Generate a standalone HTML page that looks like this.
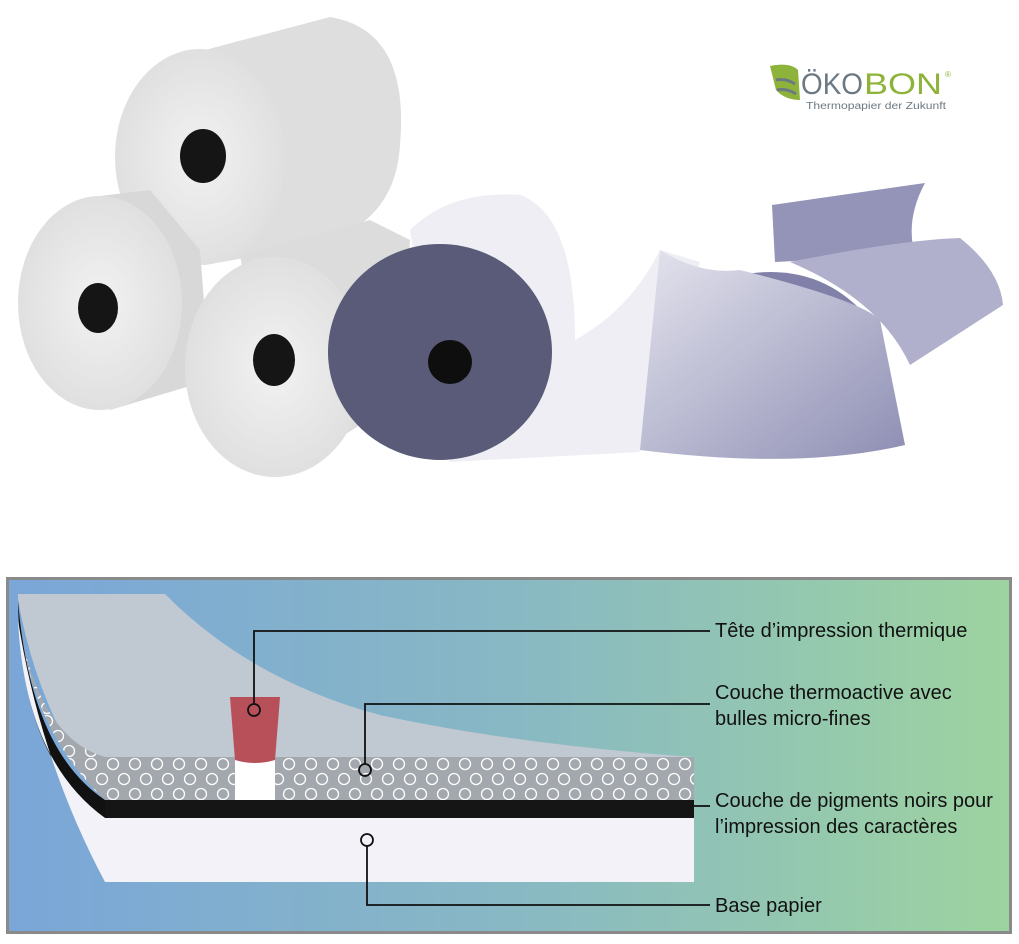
<!DOCTYPE html>
<html><head><meta charset="utf-8"><style>
html,body{margin:0;padding:0;background:#fff;width:1019px;height:944px;overflow:hidden}
svg{display:block}
text{font-family:"Liberation Sans",sans-serif}
</style></head><body>
<svg width="1019" height="944" viewBox="0 0 1019 944" xmlns="http://www.w3.org/2000/svg">
<defs>
<linearGradient id="bg" x1="0" y1="0" x2="1" y2="0">
<stop offset="0" stop-color="#7aa6d8"/><stop offset="0.5" stop-color="#88b8c4"/><stop offset="1" stop-color="#9dd3a0"/>
</linearGradient>
<radialGradient id="face" cx="0.5" cy="0.5" r="0.6"><stop offset="0" stop-color="#f2f2f2"/><stop offset="1" stop-color="#dcdcdc"/></radialGradient>
<linearGradient id="sheet" x1="0" y1="0" x2="1" y2="1"><stop offset="0" stop-color="#e4e4ee"/><stop offset="1" stop-color="#8e8eb4"/></linearGradient>
<pattern id="bub" x="105" y="757" width="44" height="43" patternUnits="userSpaceOnUse">
<rect width="44" height="43" fill="#a3a8ae"/>
<g fill="none" stroke="#fff" stroke-width="1.3">
<circle cx="8" cy="7" r="5.5"/><circle cx="30" cy="7" r="5.5"/>
<circle cx="19" cy="22" r="5.5"/><circle cx="41" cy="22" r="5.5"/><circle cx="-3" cy="22" r="5.5"/>
<circle cx="8" cy="37" r="5.5"/><circle cx="30" cy="37" r="5.5"/>
</g></pattern>
</defs>
<!-- top roll -->
<path d="M205 50 L330 17 Q410 30 400 145 Q395 235 290 250 L205 265 Z" fill="#dedede"/>
<ellipse cx="200" cy="157" rx="85" ry="108" fill="url(#face)"/>
<ellipse cx="203" cy="156" rx="23" ry="27" fill="#151515"/>
<!-- left roll -->
<path d="M100 196 L150 190 L200 250 L210 380 L110 410 Z" fill="#d8d8d8"/>
<ellipse cx="100" cy="303" rx="82" ry="107" fill="url(#face)"/>
<ellipse cx="98" cy="308" rx="20" ry="25" fill="#151515"/>
<!-- middle roll -->
<path d="M240 255 L370 220 L410 240 L400 400 L280 475 Z" fill="#dcdcdc"/>
<ellipse cx="275" cy="367" rx="90" ry="110" fill="url(#face)"/>
<ellipse cx="274" cy="360" rx="21" ry="26" fill="#151515"/>
<!-- sheets -->
<path d="M772 205 L925 183 Q905 220 915 255 L775 262 Z" fill="#9494b8"/>
<path d="M790 262 Q900 240 960 238 Q1000 270 1003 305 L910 365 Q880 300 790 262 Z" fill="#b0b0cc"/>
<path d="M740 275 Q820 260 870 320 L905 445 Z" fill="#8080a8"/>
<path d="M410 230 Q450 190 520 195 Q575 215 575 340 Q630 310 660 250 L700 262 L640 452 Q560 456 450 462 Z" fill="#eeeef4"/>
<path d="M660 250 Q700 275 740 270 Q860 300 880 320 L905 445 Q800 470 640 450 Z" fill="url(#sheet)"/>
<!-- blue roll -->
<ellipse cx="440" cy="352" rx="112" ry="108" fill="#5a5b78"/>
<ellipse cx="450" cy="362" rx="22" ry="22" fill="#0e0e0e"/>
<!-- logo -->
<path d="M770 66 Q790 62 798 70 L800 100 Q785 100 776 90 Z" fill="#8db33a"/>
<path d="M776 80 Q786 78 795 84 M777 90 Q787 88 796 94" stroke="#6c7882" stroke-width="3" fill="none"/>
<text x="801" y="94" font-size="30" fill="#6c7882" textLength="62" lengthAdjust="spacingAndGlyphs">ÖKO</text>
<text x="864" y="94" font-size="30" fill="#8db33a" textLength="78" lengthAdjust="spacingAndGlyphs">BON</text>
<text x="945" y="77" font-size="8" fill="#8db33a">®</text>
<text x="806" y="109" font-size="10" fill="#6c7882" textLength="140" lengthAdjust="spacingAndGlyphs">Thermopapier der Zukunft</text>

<!-- diagram -->
<rect x="7.5" y="578.5" width="1003" height="354" fill="url(#bg)" stroke="#8a8a8a" stroke-width="3"/>
<path d="M18 594 L165 594 Q250 680 380 715 Q520 745 694 757 L694 800 L105 800 Q40 720 18 600 Z" fill="#c0c8d2"/>
<path d="M22 640 Q45 740 105 757 L694 757 L694 800 L105 800 Q40 740 22 640 Z" fill="url(#bub)"/>
<path d="M18 600 Q30 750 105 800 L105 818 Q20 760 18 600 Z" fill="#111"/>
<path d="M18 620 Q25 760 105 818 L694 818 L694 882 L105 882 Q40 760 18 620 Z" fill="#f2f2f8"/>
<rect x="105" y="800" width="589" height="18" fill="#151515"/>
<rect x="235" y="757" width="40" height="43" fill="#fff"/>
<path d="M230 697 L280 697 L275 760 Q255 766 235 760 Z" fill="#b8505a"/>
<g fill="none" stroke="#111" stroke-width="1.8">
<path d="M254 704 L254 631 L710 631"/>
<circle cx="254" cy="710" r="6"/>
<path d="M365 764 L365 704 L710 704"/>
<circle cx="365" cy="770" r="6"/>
<path d="M694 806 L710 806"/>
<circle cx="367" cy="840" r="6"/>
<path d="M367 846 L367 905 L710 905"/>
</g>
<g font-size="20" fill="#111">
<text x="715" y="637">Tête d’impression thermique</text>
<text x="715" y="699">Couche thermoactive avec</text>
<text x="715" y="725">bulles micro-fines</text>
<text x="715" y="807">Couche de pigments noirs pour</text>
<text x="715" y="833">l’impression des caractères</text>
<text x="715" y="912">Base papier</text>
</g>
</svg>
</body></html>
